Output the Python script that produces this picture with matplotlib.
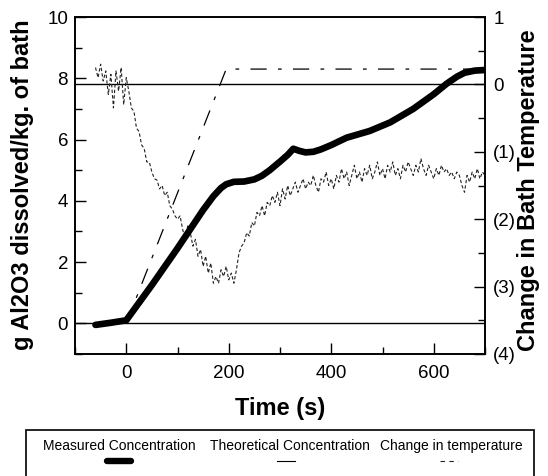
import matplotlib
matplotlib.use("Agg")
import matplotlib.pyplot as plt
from matplotlib.lines import Line2D
from matplotlib.patches import Rectangle
from matplotlib.ticker import MultipleLocator, FuncFormatter

plt.rcParams['font.family'] = ['Liberation Sans', 'DejaVu Sans']

# ---- data ----
meas_t = [-60, -30, 0, 50, 100, 150, 170, 185, 195, 210, 230, 250, 265, 280,
          300, 315, 326, 338, 350, 365, 380, 400, 430, 475, 515, 560, 600,
          625, 645, 660, 680, 700]
meas_v = [-0.05, 0.02, 0.1, 1.25, 2.45, 3.7, 4.15, 4.42, 4.54, 4.62, 4.63,
          4.7, 4.82, 5.0, 5.28, 5.5, 5.7, 5.63, 5.58, 5.6, 5.68, 5.82, 6.06,
          6.28, 6.56, 7.0, 7.48, 7.82, 8.05, 8.18, 8.25, 8.27]

theo_t = [0, 195, 700]
theo_v = [0, 8.3, 8.3]

temp_t = list(range(-60, 705, 5))
temp_v = [
    0.25, 0.1, 0.3, 0.05, 0.2, -0.15, 0.15, -0.35, 0.2, -0.1, 0.25, -0.3,
    0.1, -0.1, -0.35, -0.4, -0.65, -0.7, -0.9, -0.95, -1.15, -1.15,
    -1.3, -1.4, -1.42, -1.55, -1.5, -1.65, -1.6, -1.8, -1.85, -1.95,
    -2.0, -1.95, -2.15, -2.3, -2.1, -2.2, -2.4, -2.3, -2.55, -2.45,
    -2.7, -2.55, -2.8, -2.65, -2.95, -2.85, -2.95, -2.75, -2.85, -2.7,
    -2.9, -2.8, -2.95, -2.75, -2.5, -2.4, -2.35, -2.2, -2.25, -2.05,
    -2.1, -1.9, -1.95, -1.8, -1.95, -1.75, -1.8, -1.65, -1.75, -1.6,
    -1.8, -1.55, -1.7, -1.5, -1.65, -1.55, -1.45, -1.6, -1.5, -1.4,
    -1.55, -1.45, -1.5, -1.35, -1.5, -1.6, -1.4, -1.45, -1.3, -1.5,
    -1.4, -1.55, -1.35, -1.45, -1.25, -1.4, -1.3, -1.5, -1.35, -1.2,
    -1.4, -1.3, -1.45, -1.25, -1.35, -1.2, -1.4, -1.3, -1.15, -1.35,
    -1.25, -1.4, -1.2, -1.3, -1.15, -1.35, -1.25, -1.4, -1.2, -1.3,
    -1.15, -1.25, -1.35, -1.2, -1.3, -1.1, -1.25, -1.35, -1.2, -1.3,
    -1.4, -1.25, -1.35, -1.2, -1.3, -1.25, -1.35, -1.3, -1.4, -1.3,
    -1.35, -1.5, -1.6, -1.35, -1.45, -1.3, -1.4, -1.25, -1.4, -1.3,
    -1.35,
]

legend_labels = ["Measured Concentration", "Theoretical Concentration",
                 "Change in temperature"]

# ---- figure ----
W, H = 548, 476
fig = plt.figure(figsize=(W / 100, H / 100), dpi=100)
L, R, T, B = 75, 485, 17, 354
ax = fig.add_axes([L / W, 1 - B / H, (R - L) / W, (B - T) / H])
ax2 = ax.twinx()

ax.set_xlim(-100, 700)
ax.set_ylim(-1, 10)
ax2.set_ylim(-4, 1)

for a in (ax, ax2):
    for s in a.spines.values():
        s.set_linewidth(1.2)

ax.axhline(0, color='black', lw=1.0, zorder=1)
ax2.axhline(0, color='black', lw=1.0, zorder=1)

ax.plot(theo_t, theo_v, color='black', lw=0.9,
        linestyle=(0, (13, 9, 3, 9)), zorder=2)
ax2.plot(temp_t, temp_v, color='#222222', lw=0.8,
         linestyle=(0, (3, 2)), zorder=2)
ax.plot(meas_t, meas_v, color='black', lw=4.8, solid_capstyle='round',
        solid_joinstyle='round', zorder=3)
ax.set_zorder(ax2.get_zorder() + 1)
ax.patch.set_visible(False)

ax.xaxis.set_major_locator(MultipleLocator(200))
ax.xaxis.set_minor_locator(MultipleLocator(100))
ax.yaxis.set_major_locator(MultipleLocator(2))
ax.yaxis.set_minor_locator(MultipleLocator(1))
ax2.yaxis.set_major_locator(MultipleLocator(1))
ax2.yaxis.set_minor_locator(MultipleLocator(0.5))

ax.set_xticks([0, 200, 400, 600])
ax.tick_params(axis='both', which='major', direction='in', length=8,
               width=1.0, labelsize=13.5)
ax.tick_params(axis='both', which='minor', direction='in', length=5, width=1.0)
ax.tick_params(axis='x', which='both', pad=8)
ax.tick_params(axis='y', which='both', pad=5)
ax2.tick_params(axis='y', which='major', direction='in', length=8, width=1.0,
                labelsize=13.5, pad=6)
ax2.tick_params(axis='y', which='minor', direction='in', length=5, width=1.0)


def paren_fmt(v, pos):
    n = int(round(v))
    return f"({abs(n)})" if n < 0 else f"{n}"


ax2.yaxis.set_major_formatter(FuncFormatter(paren_fmt))

lab_kw = dict(fontsize=17, fontweight='bold')
ax.set_xlabel("Time (s)", **lab_kw)
ax.set_ylabel("g Al2O3 dissolved/kg. of bath", **lab_kw)
ax2.set_ylabel("Change in Bath Temperature", **lab_kw)

ax.xaxis.set_label_coords(0.5, (B - 408) / (B - T))
ax.xaxis.label.set_va('center')
ax.yaxis.set_label_coords((23 - L) / (R - L), (B - 185) / (B - T))
ax2.yaxis.set_label_coords((529 - L) / (R - L), (B - 190) / (B - T))
for lab in (ax.yaxis.label, ax2.yaxis.label):
    lab.set_rotation_mode('anchor')
    lab.set_va('center')
    lab.set_ha('center')
    lab.set_rotation(90)

# ---- legend (text above handles, box clipped at bottom) ----
box = Rectangle((26 / W, -0.05), (534 - 26) / W, (1 - 430 / H) + 0.05,
                transform=fig.transFigure, fill=False, lw=1.2,
                edgecolor='black', clip_on=False)
fig.add_artist(box)
text_y = 1 - 446 / H
hand_y = 1 - 461 / H
text_cx = [119, 290, 451]
hand_x = [(107, 131), (277, 295), (440, 458)]
for lbl, cx in zip(legend_labels, text_cx):
    fig.text(cx / W, text_y, lbl, ha='center', va='center', fontsize=10)
fig.add_artist(Line2D([hand_x[0][0] / W, hand_x[0][1] / W], [hand_y, hand_y],
                      color='black', lw=4.6, solid_capstyle='round',
                      transform=fig.transFigure))
fig.add_artist(Line2D([hand_x[1][0] / W, hand_x[1][1] / W], [hand_y, hand_y],
                      color='black', lw=0.8, transform=fig.transFigure))
fig.add_artist(Line2D([hand_x[2][0] / W, hand_x[2][1] / W], [hand_y, hand_y],
                      color='#222222', lw=0.8, linestyle=(0, (4, 4)),
                      transform=fig.transFigure))

fig.savefig("out.png", dpi=100)
